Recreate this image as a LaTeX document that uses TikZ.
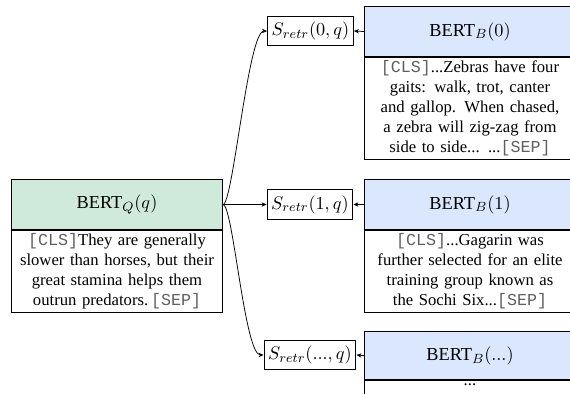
\documentclass[tikz,border=0pt]{standalone}
\usepackage{fontspec}
\setmainfont{Liberation Serif}
\setmonofont{Liberation Mono}
\usetikzlibrary{arrows.meta}
\definecolor{greenhdr}{RGB}{207,234,218}
\definecolor{bluehdr}{RGB}{218,231,252}
\definecolor{ttgray}{RGB}{95,95,95}
\newcommand{\tok}[1]{\textcolor{ttgray}{\texttt{#1}}}
\tikzset{
  hdrbox/.style={draw, line width=0.6pt, minimum width=126.6pt, minimum height=30pt, inner sep=0pt, font=\fontsize{11}{13}\selectfont, anchor=north west},
  bodybox/.style={draw, line width=0.6pt, minimum width=126.6pt, text width=122pt, align=center, inner xsep=2.3pt, inner ysep=2pt, anchor=north},
  scorebox/.style={draw, line width=0.6pt, minimum height=17.4pt, inner xsep=2.5pt, font=\fontsize{11}{13}\selectfont},
  arr/.style={-{Stealth[length=3pt,width=2.6pt]}, line width=0.45pt},
}
\begin{document}
\begin{tikzpicture}[x=0.6pt,y=-0.6pt]
\useasboundingbox (0,0) rectangle (570,394);
\clip (0,0) rectangle (570,394);
% query encoder
\node[hdrbox, fill=greenhdr] (qh) at (11,179) {BERT$_Q(q)$};
\node[bodybox] (qb) at (qh.south) {\tok{[CLS]}They are generally\\ slower than horses, but their\\ great stamina helps them\\ outrun predators.\,\tok{[SEP]}};
% block encoders
\node[hdrbox, fill=bluehdr] (b0h) at (364,6) {BERT$_B(0)$};
\node[bodybox] (b0b) at (b0h.south) {\tok{[CLS]}...Zebras have four\\ gaits:  walk, trot, canter\\ and gallop.  When chased,\\ a zebra will zig-zag from\\ side to side...  ...\tok{[SEP]}};
\node[hdrbox, fill=bluehdr] (b1h) at (364,179) {BERT$_B(1)$};
\node[bodybox] (b1b) at (b1h.south) {\tok{[CLS]}...Gagarin was\\ further selected for an elite\\ training group known as\\ the Sochi Six...\tok{[SEP]}};
\node[hdrbox, fill=bluehdr, minimum height=29pt] (b2h) at (364,331) {BERT$_B(...)$};
\node[bodybox] (b2b) at (b2h.south) {...\\ \phantom{x}};
% scores
\node[scorebox] (s0) at (310.5,31) {$S_{retr}(0,q)$};
\node[scorebox] (s1) at (310,204.5) {$S_{retr}(1,q)$};
\node[scorebox] (s2) at (310,355) {$S_{retr}(...,q)$};
% connectors
\draw[arr] (qh.east) .. controls +(10,0) and +(-19,0) .. (s0.west);
\draw[arr] (qh.east) -- (s1.west);
\draw[arr] (qh.east) .. controls +(10,0) and +(-19,0) .. (s2.west);
\draw[arr] (b0h.west) -- (s0.east);
\draw[arr] (b1h.west) -- (s1.east);
\draw[arr] (b2h.west) -- (s2.east);
\end{tikzpicture}
\end{document}
